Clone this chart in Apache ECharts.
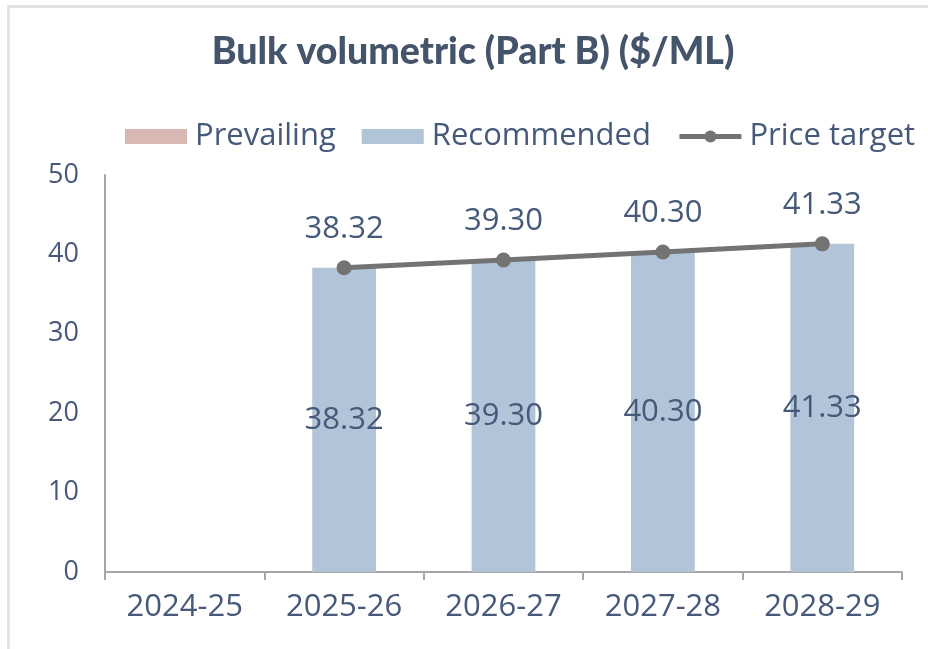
<!DOCTYPE html>
<html>
<head>
<meta charset="utf-8">
<script src="https://cdn.jsdelivr.net/npm/echarts@6/dist/echarts.min.js"></script>
<style>
html,body{margin:0;padding:0;background:#fff;}
#chart{width:928px;height:649px;}
</style>
</head>
<body>
<div id="chart"></div>
<script>
const categories = ['2024-25', '2025-26', '2026-27', '2027-28', '2028-29'];
const prevailing = [null, null, null, null, null];
const recommended = [null, 38.32, 39.30, 40.30, 41.33];
const priceTarget = [null, 38.32, 39.30, 40.30, 41.33];
const yTicks = { min: 0, max: 50, interval: 10 };

const textColor = '#46597a';
const fontFamily = '"Open Sans", "Noto Sans", sans-serif';

const chart = echarts.init(document.getElementById('chart'), null, { renderer: 'canvas' });
chart.setOption({
  animation: false,
  backgroundColor: '#ffffff',
  graphic: [{
    type: 'rect',
    left: 6, top: 4,
    shape: { width: 940, height: 660 },
    style: { fill: 'none', stroke: '#e4e4e4', lineWidth: 3 },
    silent: true
  }],
  title: {
    text: 'Bulk volumetric (Part B) ($/ML)',
    left: 468,
    textAlign: 'center',
    top: 28,
    textStyle: { fontFamily: 'Lato, sans-serif', fontWeight: 900, fontSize: 37.5, color: '#44546a' }
  },
  legend: {
    left: 120,
    top: 116,
    itemWidth: 62,
    itemHeight: 15,
    itemGap: 26,
    textStyle: { fontFamily: fontFamily, fontSize: 31, color: textColor, padding: [0, 0, 0, 3] },
    data: [
      { name: 'Prevailing', icon: 'rect' },
      { name: 'Recommended', icon: 'rect' },
      { name: 'Price target', lineStyle: { width: 5, color: '#737373' }, itemStyle: { color: '#737373' } }
    ]
  },
  grid: { left: 105, right: 26, top: 175, bottom: 77, containLabel: false },
  xAxis: {
    type: 'category',
    data: categories,
    boundaryGap: true,
    axisLine: { lineStyle: { color: '#a6a6a6', width: 2 } },
    axisTick: { show: true, length: 8, lineStyle: { color: '#a6a6a6', width: 2 }, alignWithLabel: false },
    axisLabel: { fontFamily: fontFamily, fontSize: 31, color: textColor, margin: 20 }
  },
  yAxis: {
    type: 'value',
    min: yTicks.min, max: yTicks.max, interval: yTicks.interval,
    axisLine: { show: true, lineStyle: { color: '#a6a6a6', width: 2 } },
    axisTick: { show: false },
    splitLine: { show: false },
    axisLabel: { fontFamily: fontFamily, fontSize: 27, color: textColor, margin: 26 }
  },
  series: [
    {
      name: 'Prevailing', type: 'bar', data: prevailing,
      barWidth: '40%', barGap: '-100%',
      itemStyle: { color: '#d9b8b3' }
    },
    {
      name: 'Recommended', type: 'bar', data: recommended,
      barWidth: '40%', barGap: '-100%',
      itemStyle: { color: '#b1c4d8' },
      label: {
        show: true, position: 'inside',
        formatter: p => p.value.toFixed(2),
        fontFamily: fontFamily, fontSize: 31, color: textColor
      }
    },
    {
      name: 'Price target', type: 'line', data: priceTarget,
      symbol: 'circle', symbolSize: 15,
      lineStyle: { color: '#737373', width: 5 },
      itemStyle: { color: '#737373' },
      label: {
        show: true, position: 'top', distance: 16,
        formatter: p => p.value.toFixed(2),
        fontFamily: fontFamily, fontSize: 31, color: textColor
      },
      z: 5
    }
  ]
});
</script>
</body>
</html>
